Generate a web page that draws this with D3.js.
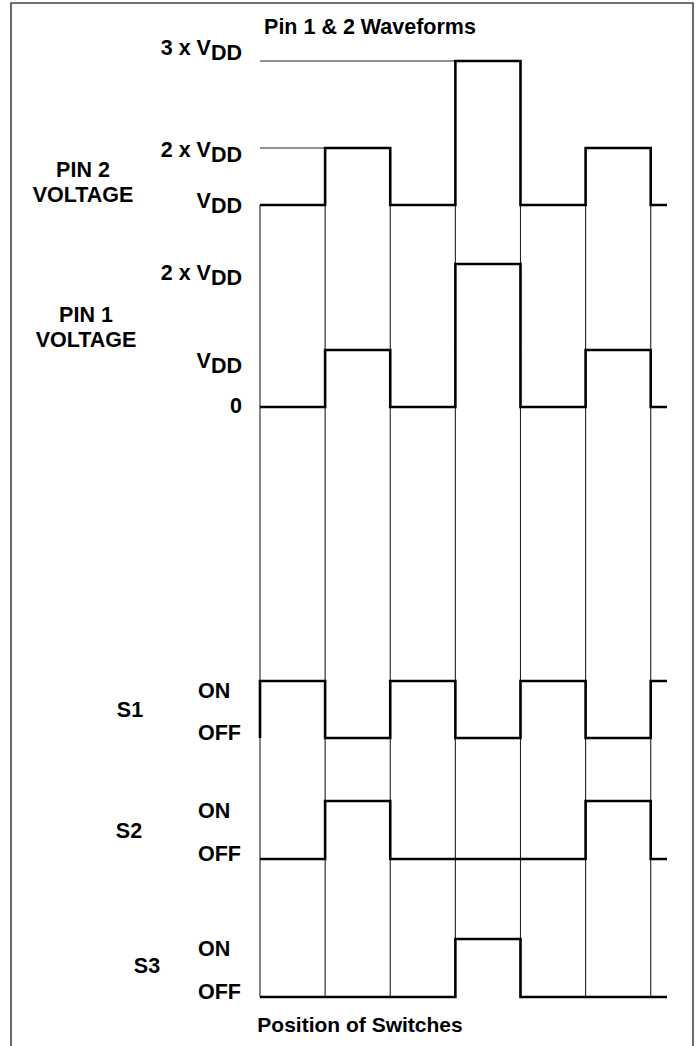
<!DOCTYPE html>
<html>
<head>
<meta charset="utf-8">
<script src="https://cdn.jsdelivr.net/npm/d3@7"></script>
<style>
  html, body { margin: 0; padding: 0; background: #fff; }
  svg { display: block; }
  text { font-family: "Liberation Sans", Arial, Helvetica, sans-serif; font-weight: bold; fill: #000; }
</style>
</head>
<body>
<script>
// ---------------- DATA ----------------
const title = "Pin 1 & 2 Waveforms";
const xAxisTitle = "Position of Switches";
const switchPositions = [0, 1, 2, 3, 4, 5, 6];       // time slots (switch positions)
const pin2Voltage = [1, 2, 1, 3, 1, 2, 1];          // in units of VDD
const pin1Voltage = [0, 1, 0, 2, 0, 1, 0];          // in units of VDD
const s1State = [1, 0, 1, 0, 1, 0, 1];              // 1 = ON, 0 = OFF
const s2State = [0, 1, 0, 0, 0, 1, 0];
const s3State = [0, 0, 0, 1, 0, 0, 0];
const s1InitialState = 0;                           // S1 switches from OFF to ON at the first position
const pin2Ticks = [1, 2, 3];
const pin2TickLabels = [["V", "DD"], ["2 x V", "DD"], ["3 x V", "DD"]];
const pin1Ticks = [0, 1, 2];
const pin1TickLabels = [["0", ""], ["V", "DD"], ["2 x V", "DD"]];
const switchTicks = [1, 0];
const switchTickLabels = ["ON", "OFF"];
const pin2Title = ["PIN 2", "VOLTAGE"];
const pin1Title = ["PIN 1", "VOLTAGE"];
const switchNames = ["S1", "S2", "S3"];

// ---------------- LAYOUT ----------------
const W = 697, H = 1046;
const svg = d3.select("body").append("svg").attr("width", W).attr("height", H);

const x = d3.scaleLinear().domain([0, 6.25]).range([260, 667]);
const yPin2 = d3.scaleLinear().domain([1, 2, 3]).range([205, 148, 61]);
const yPin1 = d3.scaleLinear().domain([0, 1, 2]).range([407, 350, 264]);
const ySw = [
  d3.scaleLinear().domain([0, 1]).range([738, 681]),
  d3.scaleLinear().domain([0, 1]).range([859, 801]),
  d3.scaleLinear().domain([0, 1]).range([997, 939])
];
const pin2LabelDy = [3, 9, -6];
const pin1LabelDy = [6, 18, 16];
const swLabelDy = { ON: 17, OFF: 2 };
const swNameY = [717, 838, 973];
const swNameX = [130, 129, 147];
const FS = 21.5;

// frame
const frame = svg.append("g").attr("fill", "none").attr("stroke", "#444").attr("stroke-width", 1.6);
frame.append("path").attr("d", d3.line()([[11, H + 2], [11, 3], [693, 3], [693, H + 2]]));

// grid (vertical lines at each switch position)
const grid = svg.append("g").attr("stroke", "#222").attr("stroke-width", 1.1);
grid.selectAll("line.v").data(switchPositions).join("line")
  .attr("x1", d => x(d)).attr("x2", d => x(d))
  .attr("y1", yPin2(1)).attr("y2", ySw[2](0));
// reference lines for 3xVDD and 2xVDD
grid.append("line").attr("x1", x(0)).attr("x2", x(3)).attr("y1", yPin2(3)).attr("y2", yPin2(3));
grid.append("line").attr("x1", x(0)).attr("x2", x(1)).attr("y1", yPin2(2)).attr("y2", yPin2(2));

// waveforms
function stepPoints(vals, initial) {
  const pts = vals.map((v, i) => [switchPositions[i], v]);
  pts.push([x.domain()[1], vals[vals.length - 1]]);
  if (initial !== undefined) pts.unshift([switchPositions[0], initial]);
  return pts;
}
function drawWave(vals, yScale, initial) {
  const line = d3.line().x(d => x(d[0])).y(d => yScale(d[1])).curve(d3.curveStepAfter);
  svg.append("path").attr("d", line(stepPoints(vals, initial)))
    .attr("fill", "none").attr("stroke", "#000").attr("stroke-width", 2.6)
    .attr("stroke-linejoin", "miter").attr("stroke-linecap", "butt");
}
drawWave(pin2Voltage, yPin2);
drawWave(pin1Voltage, yPin1);
drawWave(s1State, ySw[0], s1InitialState);
drawWave(s2State, ySw[1]);
drawWave(s3State, ySw[2]);

// tick labels
function tickLabels(ticks, labels, scale, dys) {
  ticks.forEach((t, i) => {
    const tx = svg.append("text").attr("x", 242).attr("y", scale(t) + dys[i])
      .attr("text-anchor", "end").attr("font-size", FS);
    tx.append("tspan").text(labels[i][0]);
    if (labels[i][1]) tx.append("tspan").attr("dy", 5).text(labels[i][1]);
  });
}
tickLabels(pin2Ticks, pin2TickLabels, yPin2, pin2LabelDy);
tickLabels(pin1Ticks, pin1TickLabels, yPin1, pin1LabelDy);

// group titles
function groupTitle(lines, cx, y0) {
  lines.forEach((t, i) => svg.append("text").attr("x", cx).attr("y", y0 + i * 24.5)
    .attr("text-anchor", "middle").attr("font-size", FS).text(t));
}
groupTitle(pin2Title, 83, 177);
groupTitle(pin1Title, 86, 322);

// switch labels
switchNames.forEach((n, k) => {
  svg.append("text").attr("x", swNameX[k]).attr("y", swNameY[k]).attr("text-anchor", "middle")
    .attr("font-size", FS).text(n);
  switchTicks.forEach((t, i) => {
    const lab = switchTickLabels[i];
    svg.append("text").attr("x", 198).attr("y", ySw[k](t) + swLabelDy[lab])
      .attr("font-size", FS).text(lab);
  });
});

// titles
svg.append("text").attr("x", 370).attr("y", 34).attr("text-anchor", "middle")
  .attr("font-size", 21.5).text(title);
svg.append("text").attr("x", 360).attr("y", 1032).attr("text-anchor", "middle")
  .attr("font-size", 21).text(xAxisTitle);
</script>
</body>
</html>
